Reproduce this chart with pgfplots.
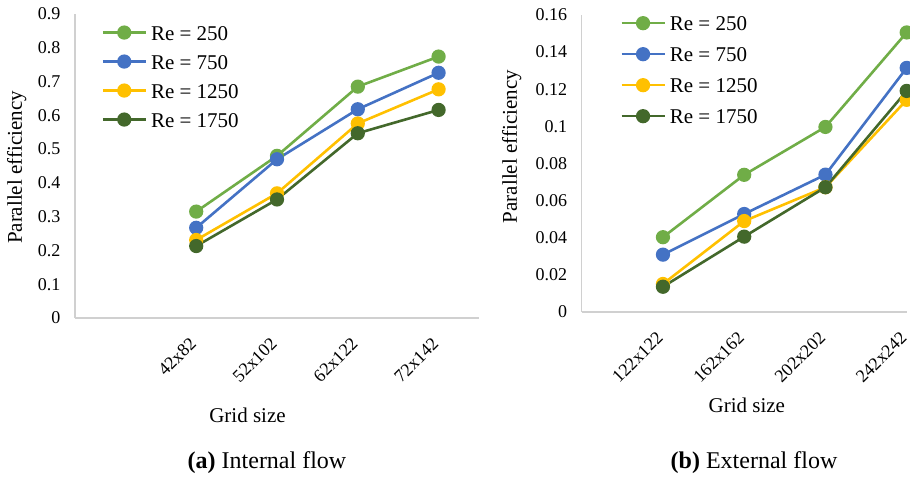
\documentclass[border=0pt]{standalone}
\usepackage{fontspec}
\setmainfont{Liberation Serif}
\usepackage{pgfplots}
\pgfplotsset{compat=1.18}

\definecolor{cA}{HTML}{70AD47}
\definecolor{cB}{HTML}{4472C4}
\definecolor{cC}{HTML}{FFC000}
\definecolor{cD}{HTML}{43682B}
\definecolor{axgray}{HTML}{D0D0D0}

\tikzset{
  xlab/.style={font=\fontsize{21}{21}\selectfont, anchor=base},
  ylab/.style={font=\fontsize{21}{21}\selectfont, rotate=90, anchor=center},
}

\pgfplotsset{
  effplot/.style={
    scale only axis,
    axis x line=bottom, axis y line=left,
    axis line style={draw=axgray, line width=1.2pt, -},
    major tick length=0pt,
    tick label style={font=\fontsize{18}{18}\selectfont},
    /pgf/number format/assume math mode=true,
    yticklabel style={xshift=-11pt},
    xticklabel style={rotate=45, anchor=east, xshift=-15pt, yshift=-14pt},
    every axis plot/.append style={line width=2.6pt, mark=*, mark size=5.8pt},
    legend cell align=left,
    legend image code/.code={%
      \draw[#1, mark repeat=2, mark phase=2]
        plot coordinates {(0pt,3pt) (21.5pt,3pt) (43pt,3pt)};},
    legend style={draw=none, fill=none, anchor=north west,
      font=\fontsize{21}{21}\selectfont, inner sep=0pt,
      nodes={inner sep=0pt, text height=14pt, text depth=5pt},
      /tikz/every odd column/.style={column sep=4pt}},
  },
}

\begin{document}
\begin{tikzpicture}
\path[use as bounding box, clip] (0pt,0pt) rectangle (910pt,477pt);

% (a) Internal flow
\begin{axis}[effplot,
  at={(75pt,159pt)}, anchor=south west,
  width=404pt, height=304pt,
  xmin=0, xmax=5, ymin=0, ymax=0.9,
  xtick={1.5,2.5,3.5,4.5},
  xticklabels={42x82,52x102,62x122,72x142},
  ytick={0,0.1,0.2,0.3,0.4,0.5,0.6,0.7,0.8,0.9},
  yticklabels={0,0.1,0.2,0.3,0.4,0.5,0.6,0.7,0.8,0.9},
  xlabel={Grid size}, ylabel={Parallel efficiency},
  every axis x label/.style={at={(axis description cs:0.427,-0.345)}, xlab},
  every axis y label/.style={at={(axis description cs:-0.144,0.495)}, ylab},
  legend style={at={(axis description cs:0.065,0.961)}, row sep=10pt},
]
\addplot[color=cA] coordinates {(1.5,0.315) (2.5,0.480) (3.5,0.685) (4.5,0.774)};
\addplot[color=cB] coordinates {(1.5,0.267) (2.5,0.470) (3.5,0.618) (4.5,0.726)};
\addplot[color=cC] coordinates {(1.5,0.231) (2.5,0.369) (3.5,0.576) (4.5,0.677)};
\addplot[color=cD] coordinates {(1.5,0.213) (2.5,0.351) (3.5,0.547) (4.5,0.616)};
\legend{Re = 250, Re = 750, Re = 1250, Re = 1750}
\end{axis}

% (b) External flow
\begin{axis}[effplot,
  at={(581.7pt,165pt)}, anchor=south west,
  width=325pt, height=297pt,
  xmin=0, xmax=4, ymin=0, ymax=0.16,
  xtick={1,2,3,4},
  xticklabels={122x122,162x162,202x202,242x242},
  ytick={0,0.02,0.04,0.06,0.08,0.1,0.12,0.14,0.16},
  yticklabels={0,0.02,0.04,0.06,0.08,0.1,0.12,0.14,0.16},
  xlabel={Grid size}, ylabel={Parallel efficiency},
  every axis x label/.style={at={(axis description cs:0.508,-0.340)}, xlab},
  every axis y label/.style={at={(axis description cs:-0.215,0.557)}, ylab},
  legend style={at={(axis description cs:0.118,0.995)}, row sep=12pt},
]
\addplot[color=cA] coordinates {(1,0.0403) (2,0.0739) (3,0.0997) (4,0.1506)};
\addplot[color=cB] coordinates {(1,0.0309) (2,0.0528) (3,0.0740) (4,0.1315)};
\addplot[color=cC] coordinates {(1,0.0151) (2,0.0490) (3,0.0672) (4,0.1143)};
\addplot[color=cD] coordinates {(1,0.0136) (2,0.0406) (3,0.0672) (4,0.1191)};
\legend{Re = 250, Re = 750, Re = 1250, Re = 1750}
\end{axis}

\node[anchor=base, font=\fontsize{24}{24}\selectfont] at (267pt,9pt) {\textbf{(a)} Internal flow};
\node[anchor=base, font=\fontsize{24}{24}\selectfont] at (754pt,9pt) {\textbf{(b)} External flow};
\end{tikzpicture}
\end{document}
